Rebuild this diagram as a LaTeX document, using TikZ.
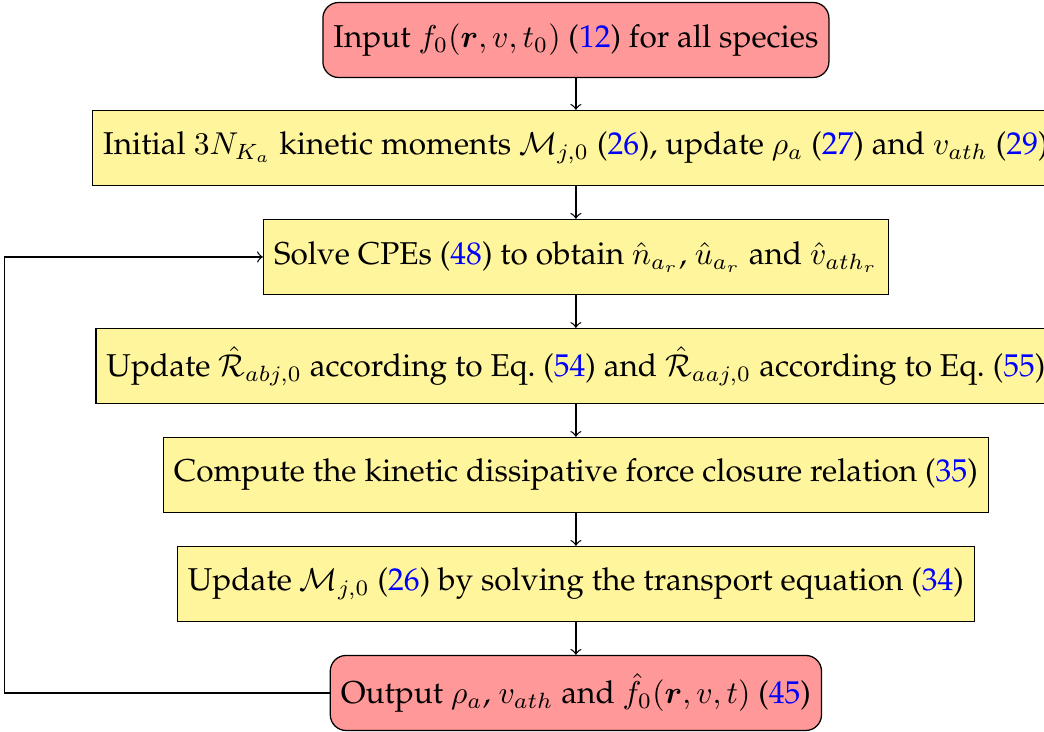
\documentclass[tikz,border=0pt]{standalone}
\usepackage[T1]{fontenc}
\usepackage{palatino}
\usepackage{xcolor}
\usepackage{tikz}
\usetikzlibrary{calc, positioning}
\usepackage{amsmath}
\definecolor{SoftRed}{HTML}{FF9999}
\definecolor{PaleYellow}{HTML}{FFF59C}
\newcommand{\eqlink}[1]{(\textcolor{blue}{#1})}

\begin{document}
\begin{tikzpicture}[
        io/.style={draw=black, rounded corners=5pt, fill=SoftRed,
                    minimum height=0.835cm, align=center},
        stepbox/.style={draw=black, fill=PaleYellow,
                    minimum height=0.835cm, align=center}]
        \useasboundingbox (0,0) rectangle (11.62,-8.14);
        \node[io]      (inp)   at (6.41,-0.445) {Input $f_0(\boldsymbol{r},v,t_0)$ \eqlink{12} for all species};
        \node[stepbox] (init)  at (6.41,-1.647) {Initial $3N_{K_a}$ kinetic moments $\mathcal{M}_{j,0}$ \eqlink{26}, update $\rho_a$ \eqlink{27} and $v_{ath}$ \eqlink{29}};
        \node[stepbox] (solve) at (6.41,-2.86) {Solve CPEs \eqlink{48} to obtain $\hat{n}_{a_r}$, $\hat{u}_{a_r}$ and $\hat{v}_{ath_r}$};
        \node[stepbox] (upd)   at (6.41,-4.074) {Update $\hat{\mathcal{R}}_{abj,0}$ according to Eq.~\eqlink{54} and $\hat{\mathcal{R}}_{aaj,0}$ according to Eq.~\eqlink{55}};
        \node[stepbox] (clos)  at (6.41,-5.287) {Compute the kinetic dissipative force closure relation \eqlink{35}};
        \node[stepbox] (trans) at (6.41,-6.50) {Update $\mathcal{M}_{j,0}$ \eqlink{26} by solving the transport equation \eqlink{34}};
        \node[io]      (out)   at (6.41,-7.713) {Output $\rho_a$, $v_{ath}$ and $\hat{f}_0(\boldsymbol{r},v,t)$ \eqlink{45}};
        \draw[->] (inp) -- (init);
        \draw[->] (init) -- (solve);
        \draw[->] (solve) -- (upd);
        \draw[->] (upd) -- (clos);
        \draw[->] (clos) -- (trans);
        \draw[->] (trans) -- (out);
        \draw[->] (out.west) -- ++(-3.62,0) |- (solve.west);
      \end{tikzpicture}
\end{document}
